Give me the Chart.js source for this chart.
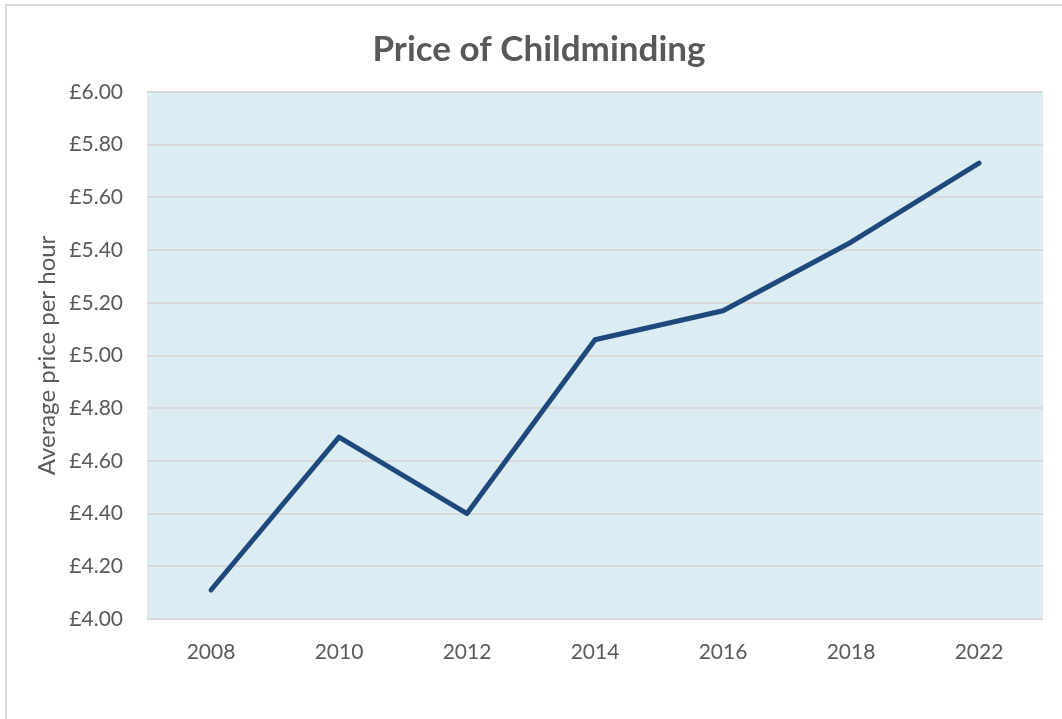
<!DOCTYPE html>
<html>
<head>
<meta charset="utf-8">
<script src="https://cdn.jsdelivr.net/npm/chart.js@4/dist/chart.umd.min.js"></script>
<style>
  body { margin: 0; background: #fff; }
  #wrap { position: absolute; left: 0; top: 0; width: 1062px; height: 719px; }
  #frame { position: absolute; left: 5px; top: 4px; width: 1070px; height: 730px;
           border: 2px solid #d9d9d9; pointer-events: none; }
</style>
</head>
<body>
<div id="wrap"><canvas id="chart" width="1062" height="719"></canvas></div>
<div id="frame"></div>
<script>
// ===============================
// DATA
// ===============================
const years = ["2008", "2010", "2012", "2014", "2016", "2018", "2022"];
const prices = [4.11, 4.69, 4.40, 5.06, 5.17, 5.43, 5.73];
const yMin = 4.0;
const yMax = 6.0;
const yStep = 0.2;

const textGrey = "#595959";
const fontName = "Lato, 'Liberation Sans', sans-serif";

// plot area background
const plotBg = {
  id: "plotBg",
  beforeDraw(chart) {
    const a = chart.chartArea;
    const ctx = chart.ctx;
    ctx.save();
    ctx.fillStyle = "#dbedf3";
    ctx.fillRect(a.left, a.top, a.right - a.left, a.bottom - a.top);
    ctx.restore();
  }
};

new Chart(document.getElementById("chart"), {
  type: "line",
  data: {
    labels: years,
    datasets: [{
      data: prices,
      borderColor: "#1f497d",
      borderWidth: 5,
      borderCapStyle: "round",
      borderJoinStyle: "round",
      pointRadius: 0,
      tension: 0,
      fill: false
    }]
  },
  options: {
    responsive: false,
    animation: false,
    layout: { padding: { left: 16, right: 0, top: 0, bottom: 0 } },
    plugins: {
      legend: { display: false },
      tooltip: { enabled: false },
      title: {
        display: true,
        text: "Price of Childminding",
        color: textGrey,
        font: { family: fontName, size: 35, weight: "bold" },
        padding: { top: 29, bottom: 21 }
      }
    },
    scales: {
      x: {
        offset: true,
        grid: { display: false },
        border: { display: false },
        ticks: { color: textGrey, font: { family: fontName, size: 21 }, padding: 13 },
        afterFit(scale) { scale.height = 100; }
      },
      y: {
        min: yMin,
        max: yMax,
        grid: { color: "#d9d9d9", lineWidth: 2, drawTicks: false },
        border: { display: false },
        ticks: {
          stepSize: yStep,
          color: textGrey,
          font: { family: fontName, size: 21 },
          padding: 24,
          callback: v => "£" + v.toFixed(2)
        },
        title: {
          display: true,
          text: "Average price per hour",
          color: textGrey,
          font: { family: fontName, size: 24 },
          padding: { top: 17, bottom: 0 }
        },
        afterFit(scale) { scale.width = 131; }
      },
      // empty right-hand axis that only reserves the margin
      yRight: {
        position: "right",
        min: yMin,
        max: yMax,
        grid: { display: false },
        border: { display: false },
        ticks: { display: false },
        afterFit(scale) { scale.width = 19; }
      }
    }
  },
  plugins: [plotBg]
});
</script>
</body>
</html>
